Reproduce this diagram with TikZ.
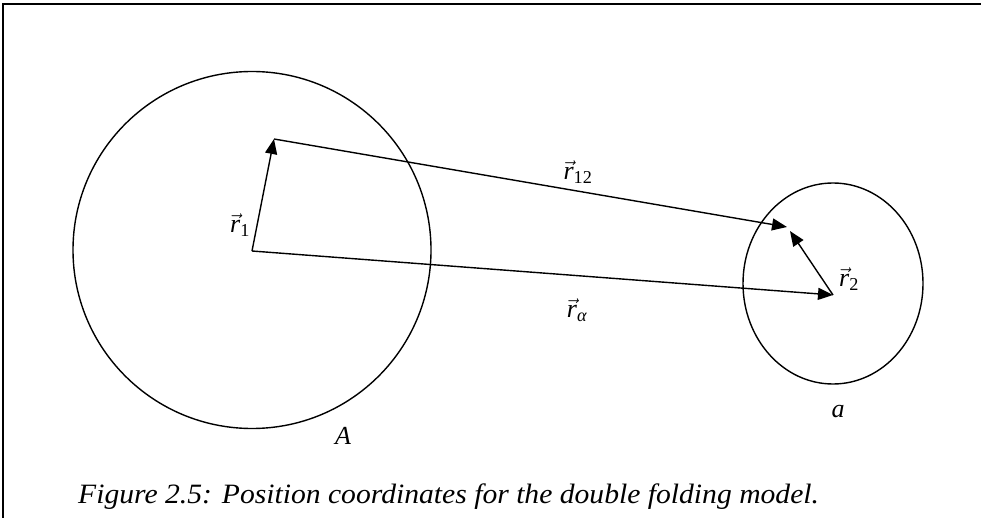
\documentclass[tikz,border=0pt]{standalone}
\usepackage{amsmath}
\usepackage{fontspec}
\setmainfont{Liberation Serif}
\usetikzlibrary{arrows.meta}
\begin{document}
\begin{tikzpicture}[x=1pt,y=-1pt,
  vecarrow/.style={line width=1.4pt,-{Triangle[length=15pt,width=12pt]}},
  outline/.style={line width=1.4pt},
  lbl/.style={inner sep=0pt,font=\fontsize{26}{30}\selectfont},
  captext/.style={inner sep=0pt,anchor=base west,font=\fontsize{28}{32}\selectfont\itshape}]
\useasboundingbox (0,0) rectangle (981,518);
% frame (top and left edges)
\draw[line width=1.6pt] (981,4) -- (3,4) -- (3,518);
% nuclei
\draw[outline] (252,250) ellipse [x radius=179, y radius=178.5];
\draw[outline] (833,283.5) ellipse [x radius=90, y radius=100.5];
% points
\coordinate (O1) at (252,251);
\coordinate (P1) at (274,139);
\coordinate (O2) at (833,295);
\coordinate (T12) at (787,227);
\coordinate (T2) at (790,231);
% vectors
\draw[vecarrow] (O1) -- (P1);
\draw[vecarrow] (P1) -- (T12);
\draw[vecarrow] (O1) -- (O2);
\draw[vecarrow] (O2) -- (T2);
% labels
\node[lbl] (l1) at (240,225) {$\vec{\textit{r}}_{\text{1}}$};
\node[lbl] (l12) at (578,172) {$\vec{\textit{r}}_{\text{12}}$};
\node[lbl] (la) at (577,310) {$\vec{\textit{r}}_{\textit{α}}$};
\node[lbl] (l2) at (849,279) {$\vec{\textit{r}}_{\text{2}}$};
\node[lbl] (lA) at (343,436) {\textit{A}};
\node[lbl] (la2) at (838,412) {\textit{a}};
\node[captext] (caption) at (78,503) {\scalebox{1.058}[1]{Figure 2.5: Position coordinates for the double folding model.}};
\end{tikzpicture}
\end{document}
